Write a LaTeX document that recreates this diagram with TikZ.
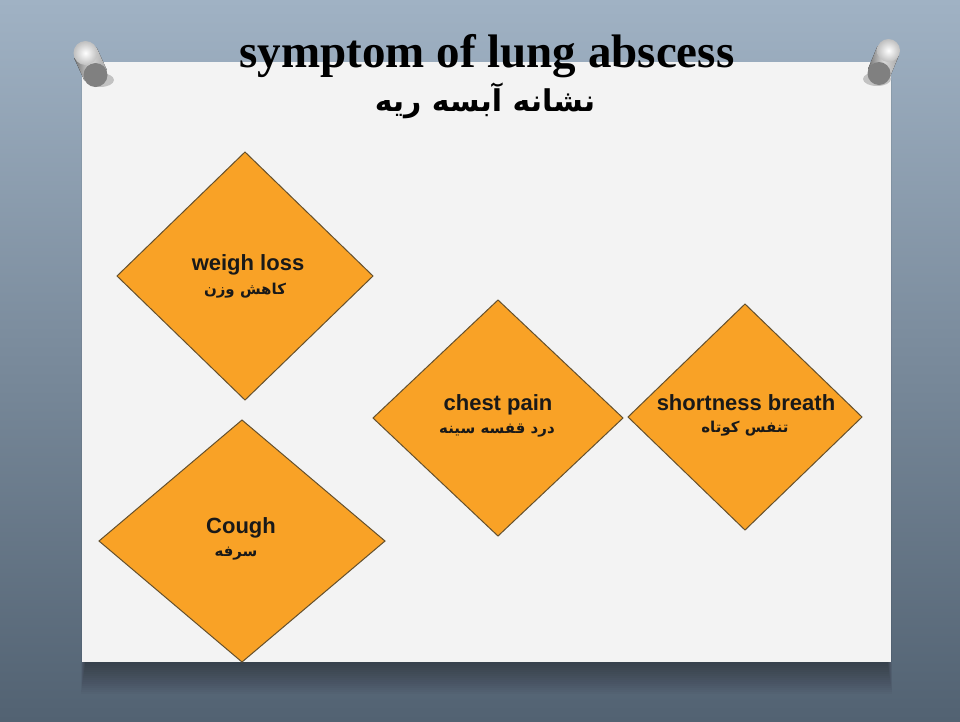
\documentclass[tikz,border=0pt]{standalone}
\usepackage{fontspec}
\setmainfont{Liberation Serif}
\newfontfamily\labfont{Liberation Sans}
\newfontfamily\fafont[Script=Arabic]{DejaVu Sans}
\TeXXeTstate=1
\usetikzlibrary{shapes.geometric}

\definecolor{slatetop}{RGB}{160,178,196}
\definecolor{slatebot}{RGB}{82,98,114}
\definecolor{paper}{RGB}{243,243,243}
\definecolor{symfill}{RGB}{249,162,38}
\definecolor{symedge}{RGB}{100,80,45}

\tikzset{
  symptom/.style={diamond, draw=symedge, line width=1pt, fill=symfill,
    inner sep=0pt, outer sep=0pt},
  symtext/.style={align=center, inner sep=0pt, text=black!90},
  pinbody/.style={left color=black!55, right color=black!35, middle color=black!15},
  pinhead/.style={inner color=white, outer color=black!25},
}
\newcommand{\entext}[1]{{\labfont\bfseries\fontsize{22}{25}\selectfont #1}}
\newcommand{\fatext}[1]{{\fafont\bfseries\fontsize{15}{18}\selectfont\beginR #1\endR}}

\begin{document}
\begin{tikzpicture}[x=1pt,y=-1pt]
  % slate backdrop
  \shade[top color=slatetop, bottom color=slatebot] (0,0) rectangle (960,721);
  \useasboundingbox (0,0) rectangle (960,721);

  % soft shadow under the sheet
  \foreach \d in {2,4,...,34}
    \fill[black, opacity=0.022] (86-\d*0.15,80) rectangle (887+\d*0.15,660+\d);

  % the sheet
  \fill[paper] (82,62) rectangle (891,662);

  % titles
  \node (title) at (487,56)
    {\fontsize{47}{50}\selectfont\bfseries symptom of lung abscess};
  \node (titlefa) at (485,101)
    {\fafont\bfseries\fontsize{30}{34}\selectfont\beginR نشانه آبسه ریه\endR};

  % symptom diamonds
  \node[symptom, minimum width=256pt, minimum height=248pt] (weight) at (245,276) {};
  \node[symptom, minimum width=286pt, minimum height=242pt] (cough) at (242,541) {};
  \node[symptom, minimum width=250pt, minimum height=236pt] (chest) at (498,418) {};
  \node[symptom, minimum width=234pt, minimum height=226pt] (breath) at (745,417) {};

  % diamond captions
  \node[symtext] (weighten) at (248,265) {\entext{weigh loss}};
  \node[symtext] (weighfa)  at (245,291) {\fatext{کاهش وزن}};
  \node[symtext] (coughen)  at (241,528) {\entext{Cough}};
  \node[symtext] (coughfa)  at (236,554) {\fatext{سرفه}};
  \node[symtext] (chesten)  at (498,405) {\entext{chest pain}};
  \node[symtext] (chestfa)  at (497,431) {\fatext{درد قفسه سینه}};
  \node[symtext] (breathen) at (746,403) {\entext{shortness breath}};
  \node[symtext] (breathfa) at (745,429) {\fatext{تنفس کوتاه}};

  % left push pin
  \fill[black, opacity=0.2] (100,80) ellipse (14pt and 7pt);
  \fill[pinbody] (96.7,47.7) -- (74.3,58.3) -- (84.3,80.3) -- (106.7,69.7) -- cycle;
  \fill[black!50] (95.5,75) circle (12pt);
  \shade[pinhead] (85.5,53) circle (12pt);

  % right push pin
  \fill[black, opacity=0.2] (877,79) ellipse (14pt and 7pt);
  \fill[pinbody] (899,55) -- (877.5,46) -- (868,69) -- (889.5,78) -- cycle;
  \fill[black!50] (879,73.5) circle (11.5pt);
  \shade[pinhead] (888.5,50.5) circle (11.5pt);
\end{tikzpicture}
\end{document}
